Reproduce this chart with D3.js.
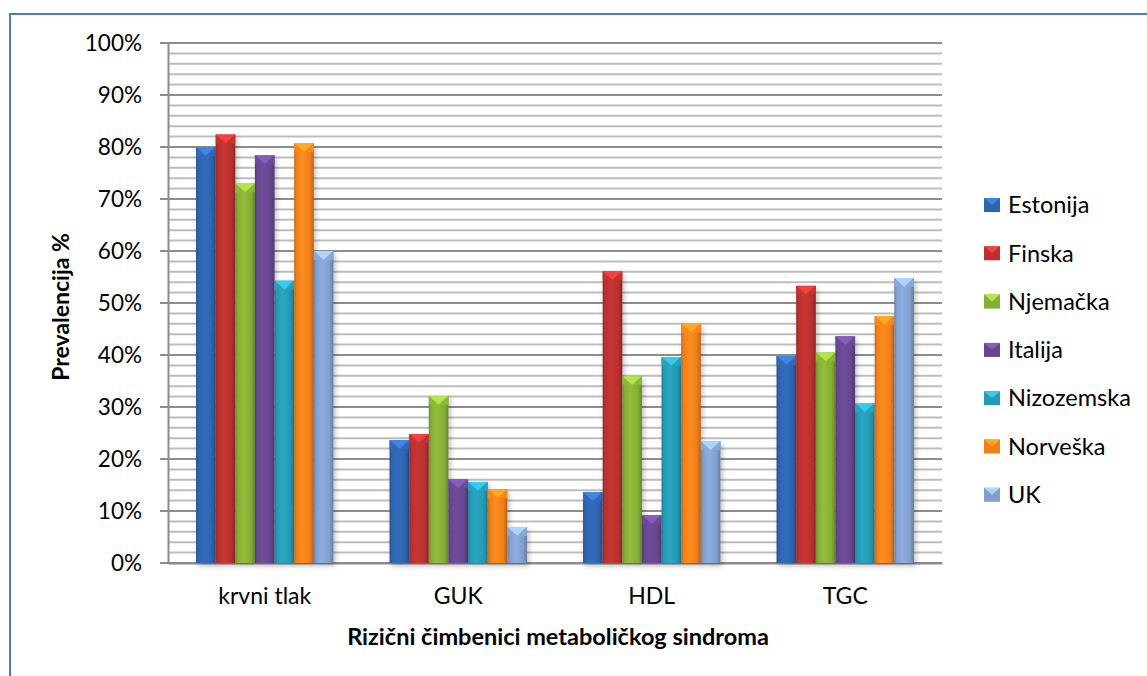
<!DOCTYPE html>
<html><head><meta charset="utf-8">
<script src="https://cdn.jsdelivr.net/npm/d3@7/dist/d3.min.js"></script>
<style>
html,body{margin:0;padding:0;background:#fff;}
svg{display:block;font-family:Lato,"Open Sans",sans-serif;}
</style></head>
<body><svg id="c" width="1147" height="676"></svg>
<script>
const categories = ["krvni tlak", "GUK", "HDL", "TGC"];
const seriesNames = ["Estonija", "Finska", "Njemačka", "Italija", "Nizozemska", "Norveška", "UK"];
const estonija   = [80.0, 23.6, 13.6, 39.8];
const finska     = [82.4, 24.8, 56.1, 53.3];
const njemacka   = [73.0, 32.1, 35.9, 40.5];
const italija    = [78.4, 16.1, 9.2, 43.6];
const nizozemska = [54.3, 15.6, 39.6, 30.7];
const norveska   = [80.7, 14.2, 46.0, 47.5];
const uk         = [60.0, 6.9, 23.4, 54.8];
const seriesValues = [estonija, finska, njemacka, italija, nizozemska, norveska, uk];
const yTicks = [0, 10, 20, 30, 40, 50, 60, 70, 80, 90, 100];
const yTitle = "Prevalencija %";
const xTitle = "Rizični čimbenici metaboličkog sindroma";
const colors = ["#2f63ad", "#b8312f", "#86ad36", "#66468f", "#2699b3", "#ee7f1a", "#819fce"];

(function () {
const svg = d3.select("#c");
const defs = svg.append("defs");

// frame
svg.append("rect").attr("x", 10).attr("y", 14).attr("width", 1160).attr("height", 700)
  .attr("fill", "#fff").attr("stroke", "#4a7ebb").attr("stroke-width", 2);

const pL = 168, pR = 942, pT = 43, pB = 563;
const y = d3.scaleLinear().domain([0, 100]).range([pB, pT]);
const x0 = d3.scaleBand().domain(categories).range([pL, pR]).paddingInner(0.29).paddingOuter(0.145);
const x1 = d3.scaleBand().domain(seriesNames).range([0, x0.bandwidth()]).padding(0);

// minor gridlines
const minor = d3.range(0, 101, 2).filter(v => v % 10 !== 0);
svg.append("g").selectAll("line").data(minor).join("line")
  .attr("x1", pL).attr("x2", pR).attr("y1", d => y(d)).attr("y2", d => y(d))
  .attr("stroke", "#bdbdbd").attr("stroke-width", 2);
// major gridlines
svg.append("g").selectAll("line").data(yTicks).join("line")
  .attr("x1", pL - 8).attr("x2", pR).attr("y1", d => y(d)).attr("y2", d => y(d))
  .attr("stroke", "#8c8c8c").attr("stroke-width", 2);

// y axis
const yAxis = d3.axisLeft(y).tickValues(yTicks).tickFormat(d => d + "%").tickSize(0).tickPadding(26);
const gy = svg.append("g").attr("transform", `translate(${pL},0)`).call(yAxis);
gy.select(".domain").attr("stroke", "#8c8c8c").attr("stroke-width", 2);
gy.selectAll("text").attr("font-size", 22.5).attr("fill", "#000").attr("font-family", "Lato");

// x axis
const xAxis = d3.axisBottom(x0).tickSize(0).tickPadding(25);
const gx = svg.append("g").attr("transform", `translate(0,${pB})`).call(xAxis);
gx.select(".domain").attr("stroke", "#8c8c8c").attr("stroke-width", 2);
gx.selectAll("text").attr("font-size", 23).attr("fill", "#000").attr("font-family", "Lato");

// gradients
colors.forEach((c, i) => {
  const g = defs.append("linearGradient").attr("id", "g" + i).attr("x1", "0").attr("x2", "1").attr("y1", "0").attr("y2", "0");
  const base = d3.color(c);
  g.append("stop").attr("offset", "0%").attr("stop-color", base.darker(0.6));
  g.append("stop").attr("offset", "12%").attr("stop-color", base);
  g.append("stop").attr("offset", "40%").attr("stop-color", base.brighter(0.25));
  g.append("stop").attr("offset", "80%").attr("stop-color", base);
  g.append("stop").attr("offset", "100%").attr("stop-color", base.darker(0.7));
});
const f = defs.append("filter").attr("id", "sh").attr("x", "-30%").attr("y", "-10%").attr("width", "160%").attr("height", "130%");
f.append("feDropShadow").attr("dx", 2).attr("dy", 3).attr("stdDeviation", 2.5).attr("flood-color", "#000").attr("flood-opacity", 0.25);

// bars
const data = [];
categories.forEach((cat, ci) => seriesNames.forEach((s, si) => data.push({cat, s, si, v: seriesValues[si][ci]})));
const bars = svg.append("g").selectAll("g").data(data).join("g")
  .attr("transform", d => `translate(${x0(d.cat) + x1(d.s)},0)`);
bars.append("rect").attr("x", 0).attr("width", x1.bandwidth()).attr("y", d => y(d.v)).attr("height", d => y(0) - y(d.v))
  .attr("fill", d => `url(#g${d.si})`).attr("filter", "url(#sh)");
bars.append("path").attr("d", d => {
  const w = x1.bandwidth(), t = y(d.v);
  return `M0,${t}L${w},${t}L${w / 2},${t + 9}Z`;
}).attr("fill", d => d3.color(colors[d.si]).brighter(0.8));
bars.append("path").attr("d", d => {
  const w = x1.bandwidth(), t = y(d.v);
  return `M0,${t}L${w / 2},${t + 9}L0,${t + 9}Z M${w},${t}L${w / 2},${t + 9}L${w},${t + 9}Z`;
}).attr("fill", d => d3.color(colors[d.si]).brighter(0.15));

// axis titles
svg.append("text").attr("transform", `translate(69,${(pT + pB) / 2 + 4}) rotate(-90)`)
  .attr("text-anchor", "middle").attr("font-size", 23).attr("font-weight", "bold").attr("font-family", "Lato").text(yTitle);
svg.append("text").attr("x", (pL + pR) / 2 + 3).attr("y", 645)
  .attr("text-anchor", "middle").attr("font-size", 23.5).attr("font-weight", "bold").attr("font-family", "Lato").text(xTitle);

// legend
const lg = svg.append("g").selectAll("g").data(seriesNames).join("g")
  .attr("transform", (d, i) => `translate(984,${205 + i * 48.3})`);
lg.append("rect").attr("x", 0).attr("y", -7).attr("width", 16).attr("height", 14).attr("fill", (d, i) => colors[i]);
lg.append("path").attr("d", "M0,-7L16,-7L8,0Z").attr("fill", (d, i) => d3.color(colors[i]).brighter(0.8));
lg.append("text").attr("x", 24).attr("y", 0).attr("dy", "0.35em").attr("font-size", 23.5).attr("font-family", "Lato").text(d => d);
})();
</script></body></html>
